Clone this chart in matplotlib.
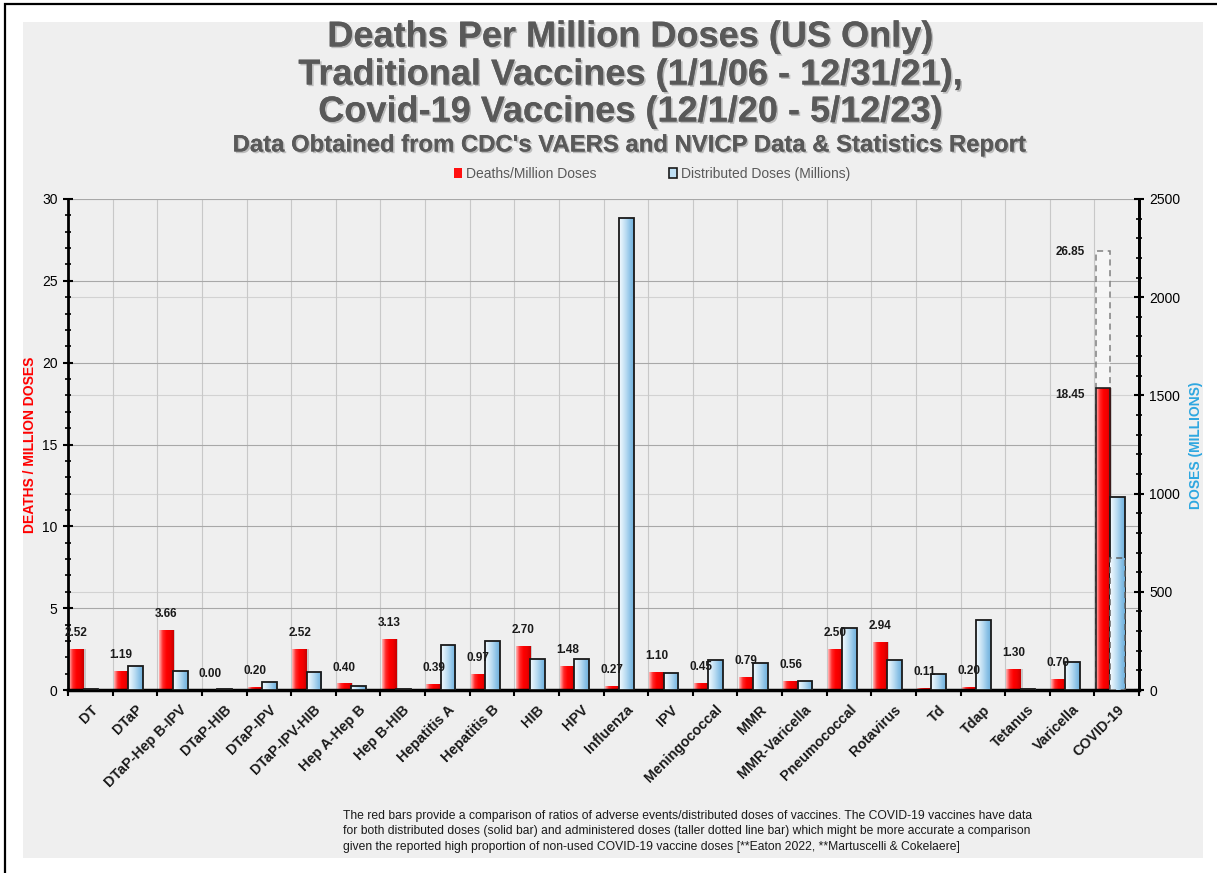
import numpy as np
import matplotlib
matplotlib.use("Agg")
import matplotlib.pyplot as plt
from matplotlib.patches import Rectangle, Patch
from matplotlib.colors import LinearSegmentedColormap
from matplotlib.transforms import blended_transform_factory
import matplotlib.patheffects as pe

# ---------------- data ----------------
vaccines = ['DT', 'DTaP', 'DTaP-Hep B-IPV', 'DTaP-HIB', 'DTaP-IPV', 'DTaP-IPV-HIB',
            'Hep A-Hep B', 'Hep B-HIB', 'Hepatitis A', 'Hepatitis B', 'HIB', 'HPV',
            'Influenza', 'IPV', 'Meningococcal', 'MMR', 'MMR-Varicella', 'Pneumococcal',
            'Rotavirus', 'Td', 'Tdap', 'Tetanus', 'Varicella', 'COVID-19']
deaths_per_million = [2.52, 1.19, 3.66, 0.00, 0.20, 2.52, 0.40, 3.13, 0.39, 0.97, 2.70, 1.48,
                      0.27, 1.10, 0.45, 0.79, 0.56, 2.50, 2.94, 0.11, 0.20, 1.30, 0.70, 18.45]
distributed_doses = [3, 122, 95, 3, 41, 92, 20, 3, 229, 250, 158, 160,
                     2403, 87, 153, 137, 46, 316, 153, 81, 356, 3, 143, 983]
covid_admin_deaths = 26.85     # deaths per million using administered doses
covid_admin_doses = 672        # administered doses (millions)

left_ticks = [0, 5, 10, 15, 20, 25, 30]
right_ticks = [0, 500, 1000, 1500, 2000, 2500]

title_lines = ["Deaths Per Million Doses (US Only)",
               "Traditional Vaccines (1/1/06 - 12/31/21),",
               "Covid-19 Vaccines (12/1/20 - 5/12/23)"]
subtitle = "Data Obtained from CDC's VAERS and NVICP Data & Statistics Report"
footnote = ("The red bars provide a comparison of ratios of adverse events/distributed doses of vaccines. The COVID-19 vaccines have data\n"
            "for both distributed doses (solid bar) and administered doses (taller dotted line bar) which might be more accurate a comparison\n"
            "given the reported high proportion of non-used COVID-19 vaccine doses [**Eaton 2022, **Martuscelli & Cokelaere]")

# ---------------- style ----------------
plt.rcParams['font.family'] = ['Liberation Sans', 'DejaVu Sans']
W, H = 1217, 873
fig = plt.figure(figsize=(W / 100, H / 100), dpi=100)
fig.patch.set_facecolor('white')

# frame + gray panel
fig.add_artist(Rectangle((23 / W, 1 - 858 / H), (1203 - 23) / W, (858 - 22) / H,
                         transform=fig.transFigure, facecolor='#efefef', edgecolor='none', zorder=0))
fig.add_artist(Rectangle((5 / W, -0.05), 1.2, 1 - 4 / H + 0.05,
                         transform=fig.transFigure, facecolor='none', edgecolor='black',
                         linewidth=1.6, zorder=0.5))

L, R, T, B = 68, 1139, 199, 690
ax1 = fig.add_axes([L / W, 1 - B / H, (R - L) / W, (B - T) / H])
ax2 = ax1.twinx()
for a in (ax1, ax2):
    a.patch.set_visible(False)

n = len(vaccines)
idx = np.arange(n)
red_off, red_w = 0.03, 0.32
blue_off, blue_w = 0.35, 0.33

red_cmap = LinearSegmentedColormap.from_list('r', ['#ffb8b8', '#ff2a2a', '#ff0000', '#f00000', '#c80000'])
blue_cmap = LinearSegmentedColormap.from_list('b', ['#f4faff', '#d6ebf8', '#b4d9f1', '#8cc2e6', '#6fb0dc'])
grad = np.linspace(0, 1, 64).reshape(1, -1)


def grad_fill(ax, bar, cmap, z):
    x0, y0 = bar.get_x(), bar.get_y()
    w, h = bar.get_width(), bar.get_height()
    if h <= 0:
        return
    im = ax.imshow(grad, cmap=cmap, extent=(x0, x0 + w, y0, y0 + h), aspect='auto',
                   zorder=z, interpolation='bilinear')
    im.set_clip_path(bar)


# grid (all drawn on ax1 so bars sit above it)
ax1.set_axisbelow(True)
ax1.yaxis.grid(True, which='major', color='#a8a8a8', linewidth=0.8, zorder=0)
ax1.vlines(idx[1:], 0, 1, transform=blended_transform_factory(ax1.transData, ax1.transAxes),
           color='#c8c8c8', linewidth=0.8, zorder=0.5)
ax1.hlines(right_ticks[1:], 0, 1, transform=blended_transform_factory(ax1.transAxes, ax2.transData),
           color='#d2d2d2', linewidth=0.8, zorder=0.4)

# red bars (ax1)
covid_i = n - 1
dash_red = ax1.bar(covid_i + red_off, covid_admin_deaths, width=red_w, align='edge',
                   facecolor=(1, 1, 1, 0.45), edgecolor='#808080', linestyle=(0, (4, 3)),
                   linewidth=1.1, zorder=1.5)
ax1.bar(idx + red_off + 0.045, deaths_per_million, width=red_w, align='edge',
        color='#9a9a9a', alpha=0.45, zorder=1.8, linewidth=0)
red_bars = ax1.bar(idx + red_off, deaths_per_million, width=red_w, align='edge',
                   facecolor='none', edgecolor='none', linewidth=0, zorder=2.2)
for i, b in enumerate(red_bars):
    grad_fill(ax1, b, red_cmap, 2.1)
red_bars[covid_i].set_edgecolor('#202020')
red_bars[covid_i].set_linewidth(1.2)

# blue bars (ax2)
blue_bars = ax2.bar(idx + blue_off, distributed_doses, width=blue_w, align='edge',
                    facecolor='none', edgecolor='#1a1a1a', linewidth=1.3, zorder=3)
for b in blue_bars:
    grad_fill(ax2, b, blue_cmap, 2.9)
dash_blue = ax2.bar(covid_i + blue_off, covid_admin_doses, width=blue_w, align='edge',
                    facecolor='none', edgecolor='#606060', linestyle=(0, (4, 3)),
                    linewidth=1.1, zorder=3.6)
grad_fill(ax2, dash_blue[0], blue_cmap, 3.5)

# value labels
for i, v in enumerate(deaths_per_million):
    if i == covid_i:
        continue
    ax2.annotate(f"{v:.2f}", xy=(i + red_off + red_w / 2, v), xycoords=ax1.transData,
                 xytext=(0, 7), textcoords='offset points', ha='center', va='bottom',
                 fontsize=8.5, fontweight='bold', color='#1a1a1a', zorder=5)
ax2.annotate(f"{deaths_per_million[covid_i]:.2f}", xy=(covid_i + red_off, deaths_per_million[covid_i]),
             xycoords=ax1.transData, xytext=(-8, -5), textcoords='offset points', ha='right',
             va='center', fontsize=8.5, fontweight='bold', color='#1a1a1a', zorder=5)
ax2.annotate(f"{covid_admin_deaths:.2f}", xy=(covid_i + red_off, covid_admin_deaths),
             xycoords=ax1.transData, xytext=(-8, -1), textcoords='offset points', ha='right',
             va='center', fontsize=8.5, fontweight='bold', color='#1a1a1a', zorder=5)

# axes limits / ticks
ax1.set_xlim(0, n)
ax1.set_ylim(0, 30)
ax2.set_ylim(0, 2500)
ax1.set_yticks(left_ticks)
ax1.set_yticks(np.arange(0, 31, 1), minor=True)
ax2.set_yticks(right_ticks)
ax2.set_yticks(np.arange(0, 2501, 100), minor=True)
ax1.set_xticks(idx + 0.5)
ax1.set_xticklabels(vaccines, rotation=45, ha='right', rotation_mode='anchor',
                    fontsize=10.3, fontweight='bold', color='#1a1a1a')
ax1.set_xticks(np.arange(0, n + 1), minor=True)
ax1.tick_params(axis='x', which='major', length=0, pad=9)
ax1.tick_params(axis='x', which='minor', length=4, width=1.5, direction='out', color='black')
ax1.tick_params(axis='y', which='major', length=7, width=1.5, direction='inout', labelsize=10, pad=4)
ax1.tick_params(axis='y', which='minor', length=5, width=1.2, direction='inout')
ax2.tick_params(axis='y', which='major', length=7, width=1.5, direction='inout', labelsize=10, pad=4)
ax2.tick_params(axis='y', which='minor', length=5, width=1.2, direction='inout')

for a in (ax1, ax2):
    a.spines['top'].set_visible(False)
    a.spines['left'].set_linewidth(2)
    a.spines['right'].set_linewidth(2)
    a.spines['bottom'].set_linewidth(2.5)
ax2.spines['left'].set_visible(False)
ax2.spines['bottom'].set_visible(False)

# axis titles
fig.text(30 / W, 1 - 445 / H, "DEATHS / MILLION DOSES", rotation=90, ha='center', va='center',
         fontsize=10, fontweight='bold', color='#ff0000')
fig.text(1196 / W, 1 - 445 / H, "DOSES (MILLIONS)", rotation=90, ha='center', va='center',
         fontsize=10, fontweight='bold', color='#2ea7e0')

# titles
shadow = [pe.withSimplePatchShadow(offset=(1.2, -1.2), shadow_rgbFace='#9a9a9a', alpha=0.6), pe.Normal()]
for k, (line, yc) in enumerate(zip(title_lines, [37, 75, 112])):
    fig.text(630 / W, 1 - yc / H, line, ha='center', va='center', fontsize=26,
             fontweight='bold', color='#595959', path_effects=shadow)
fig.text(629 / W, 1 - 145 / H, subtitle, ha='center', va='center', fontsize=17.2,
         fontweight='bold', color='#595959', path_effects=shadow)

# legend
handles = [Patch(facecolor='#ff1010', edgecolor='none'),
           Patch(facecolor='#bfe0f5', edgecolor='#1a1a1a', linewidth=1.2)]
fig.legend(handles, ['Deaths/Million Doses', 'Distributed Doses (Millions)'], ncol=2,
           loc='center', bbox_to_anchor=(652 / W, 1 - 174 / H), frameon=False,
           fontsize=10, labelcolor='#595959', handlelength=0.6, handleheight=0.8,
           handletextpad=0.3, columnspacing=5.2)

# footnote
fig.text(343 / W, 1 - 810 / H, footnote, ha='left', va='top', fontsize=8.7, color='#1a1a1a',
         linespacing=1.38)

fig.savefig('out.png', dpi=100, facecolor=fig.get_facecolor())
